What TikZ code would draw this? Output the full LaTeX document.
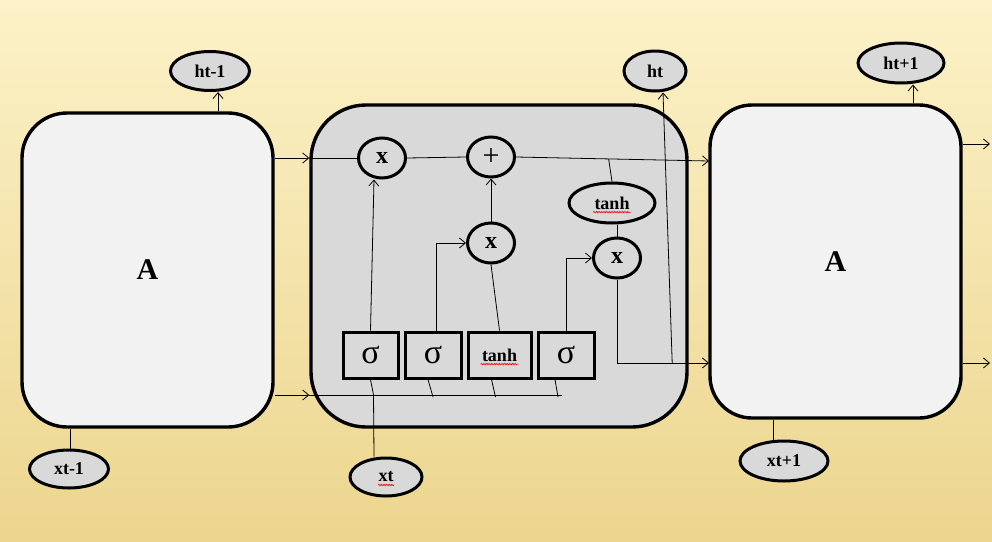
\documentclass[tikz,border=0pt]{standalone}
\usepackage{fontspec}
\setmainfont{Liberation Serif}
\usepackage{tikz}
\usetikzlibrary{shapes.geometric, arrows.meta, positioning, calc, decorations.pathmorphing}

\definecolor{bgtop}{RGB}{252,242,200}
\definecolor{bgbot}{RGB}{236,213,142}
\definecolor{cellgray}{RGB}{217,217,217}
\definecolor{boxwhite}{RGB}{242,242,242}

\begin{document}
\begin{tikzpicture}[x=1pt,y=-1pt,
  block/.style={draw,line width=3.4pt,fill=boxwhite,inner sep=0pt,minimum width=251pt,font=\fontsize{30}{32}\selectfont\bfseries},
  tag/.style={draw,ellipse,line width=3pt,fill=cellgray,inner sep=0pt,minimum height=39pt,font=\fontsize{18}{20}\selectfont\bfseries},
  op/.style={draw,ellipse,line width=3pt,fill=cellgray,inner sep=0pt,minimum width=47pt,minimum height=40pt,font=\fontsize{24}{26}\selectfont\bfseries},
  gate/.style={draw,line width=3pt,fill=cellgray,inner sep=0pt,minimum width=56pt,minimum height=46pt,font=\fontsize{18}{20}\selectfont\bfseries},
  sig/.style={font=\fontsize{34}{36}\selectfont},
  arr/.style={-{Straight Barb[length=6pt,width=10pt]},line width=0.8pt},
  link/.style={line width=0.8pt},
  squiggle/.style={red,line width=0.6pt,decorate,decoration={snake,amplitude=0.8pt,segment length=2.6pt}}]

\fill[top color=bgtop,bottom color=bgbot] (0,0) rectangle (992,541);
\useasboundingbox (0,0) rectangle (992,541);

% outer cells
\node[block,rounded corners=45pt,minimum height=314pt] (Aprev) at (147.5,270) {A};
\node[block,rounded corners=42pt,minimum height=313pt] (Anext) at (835.5,261.5) {A};
\node[draw,line width=3.4pt,fill=cellgray,rounded corners=55pt,minimum width=376pt,minimum height=322pt] (cell) at (499,266) {};

% inputs and outputs
\node[tag,minimum width=79pt] (hprev) at (210,71) {ht-1};
\node[tag,minimum width=79pt,minimum height=38pt] (xprev) at (69,469) {xt-1};
\node[tag,minimum width=62pt,minimum height=40pt] (ht) at (655,71) {ht};
\node[tag,minimum width=72pt,minimum height=38pt] (xt) at (386,477) {xt};
\node[tag,minimum width=86pt,minimum height=40pt] (hnext) at (901,63) {ht+1};
\node[tag,minimum width=88pt,minimum height=40pt] (xnext) at (784,461) {xt+1};

% operations
\node[op] (x1) at (382,158) {x};
\node[op,font=\fontsize{30}{32}\selectfont] (plus) at (491,157) {+};
\node[op] (x2) at (491,243) {x};
\node[op,minimum width=86pt,font=\fontsize{18}{20}\selectfont\bfseries] (tanhc) at (612,203) {tanh};
\node[op] (x3) at (617,258) {x};

% gates
\node[gate,sig,minimum width=55pt] (g1) at (370.5,355) {σ};
\node[gate,sig] (g2) at (433,355) {σ};
\node[gate,minimum width=63pt] (g3) at (499.5,355) {tanh};
\node[gate,sig] (g4) at (566,355) {σ};

\coordinate (bus) at (562,395);
\coordinate (ctop) at (709,161);
\coordinate (cbot) at (709,363);
\coordinate (otop) at (990,144);
\coordinate (obot) at (990,363);

% connectors
\draw[arr] (Aprev.east |- x1) -- (cell.west |- x1);
\draw[link] (cell.west |- x1) -- (x1.west);
\draw[arr] (Aprev.east |- bus) -- (cell.west |- bus);
\draw[link] (cell.west |- bus) -- (bus);
\draw[link] (x1.east) -- (plus.west);
\draw[arr] (plus.east) -- (ctop);
\draw[link] (tanhc.north) -- ($(plus.east)!0.48!(ctop)$);
\draw[arr] (g1.north) -- ($(x1.south)+(-8,0)$);
\draw[arr] ($(g2.north)+(3,0)$) |- (x2.west);
\draw[link] (g3.north) -- (x2.south);
\draw[arr] (x2.north) -- (plus.south);
\draw[arr] (g4.north) |- (x3.west);
\draw[link] (x3.north) -- (x3.north |- tanhc.south);
\draw[arr] (x3.south) |- (cbot);
\draw[arr] ($(x3.south |- cbot)!0.6!(cbot)$) -- ($(ht.south)+(8,0)$);
\draw[link] (g1.south) -- ($(g1.south |- bus)+(3,0)$);
\draw[link] ($(g2.south)+(-5,0)$) -- ($(g2.south |- bus)+(0,2)$);
\draw[link] ($(g3.south)+(-8,0)$) -- ($(g3.south |- bus)+(-4,2)$);
\draw[link] ($(g4.south)+(-11,0)$) -- ($(g4.south |- bus)+(-8,2)$);
\draw[link] ($(xt.north)+(-12,0)$) -- ($(g1.south |- bus)+(3,0)$);
\draw[arr] ($(hprev.south |- Aprev.north)+(8,0)$) -- ($(hprev.south)+(8,0)$);
\draw[link] ($(xprev.north)+(1,0)$) -- ($(xprev.north |- Aprev.south)+(1,0)$);
\draw[arr] ($(hnext.south |- Anext.north)+(12,0)$) -- ($(hnext.south)+(12,0)$);
\draw[link] ($(xnext.north)+(-11,0)$) -- ($(xnext.north |- Anext.south)+(-11,0)$);
\draw[arr] (Anext.east |- otop) -- (otop);
\draw[arr] (Anext.east |- obot) -- (obot);

% spelling marks
\draw[squiggle] ($(tanhc.base)+(-19,3)$) -- ($(tanhc.base)+(19,3)$);
\draw[squiggle] ($(g3.base)+(-19,3)$) -- ($(g3.base)+(19,3)$);
\draw[squiggle] ($(xt.base)+(-8,3)$) -- ($(xt.base)+(8,3)$);
\end{tikzpicture}
\end{document}
